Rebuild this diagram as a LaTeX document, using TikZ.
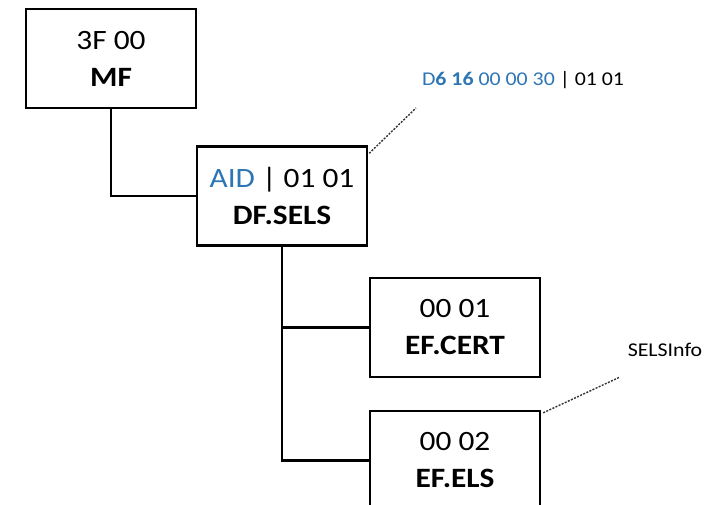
\documentclass[tikz,border=0pt]{standalone}
\usepackage{fontspec}
\setmainfont{Carlito}[FakeStretch=1.12]
\definecolor{ablue}{RGB}{46,117,182}
\begin{document}
\begin{tikzpicture}[x=1pt,y=-1pt,
  box/.style={draw, line width=2.4pt, minimum width=170pt, minimum height=99pt,
    align=center, inner sep=0pt, font=\fontsize{28}{37}\selectfont},
  conn/.style={line width=2.4pt},
  callout/.style={draw=black!80, line width=1.4pt, dash pattern=on 2pt off 1.4pt},
  lab/.style={inner sep=0pt, font=\fontsize{19.5}{22}\selectfont}]
\useasboundingbox (0,0) rectangle (726,505);
\clip (0,0) rectangle (726,505);
\node[box] (mf) at (111,58.5) {3F 00\\\textbf{MF}};
\node[box] (df) at (282,196) {\textcolor{ablue}{AID} | 01 01\\\textbf{DF.SELS}};
\node[box] (cert) at (455,327.5) {00 01\\\textbf{EF.CERT}};
\node[box] (els) at (455,460.5) {00 02\\\textbf{EF.ELS}};
\draw[conn] (mf.south) |- (df.west);
\draw[conn] (df.south) |- (cert.west);
\draw[conn] (df.south) |- (els.west);
\node[lab] (l1) at (523,80) {\textcolor{ablue}{D\textbf{6 16} 00 00 30} | 01 01};
\node[lab] (l2) at (665,350) {SELSInfo};
\coordinate (c1) at (416,108);
\coordinate (c2) at (620,377);
\draw[callout] ([shift={(1pt,-8pt)}]df.north east) -- (c1);
\draw[callout] ([shift={(2pt,-3pt)}]els.north east) -- (c2);
\end{tikzpicture}
\end{document}
